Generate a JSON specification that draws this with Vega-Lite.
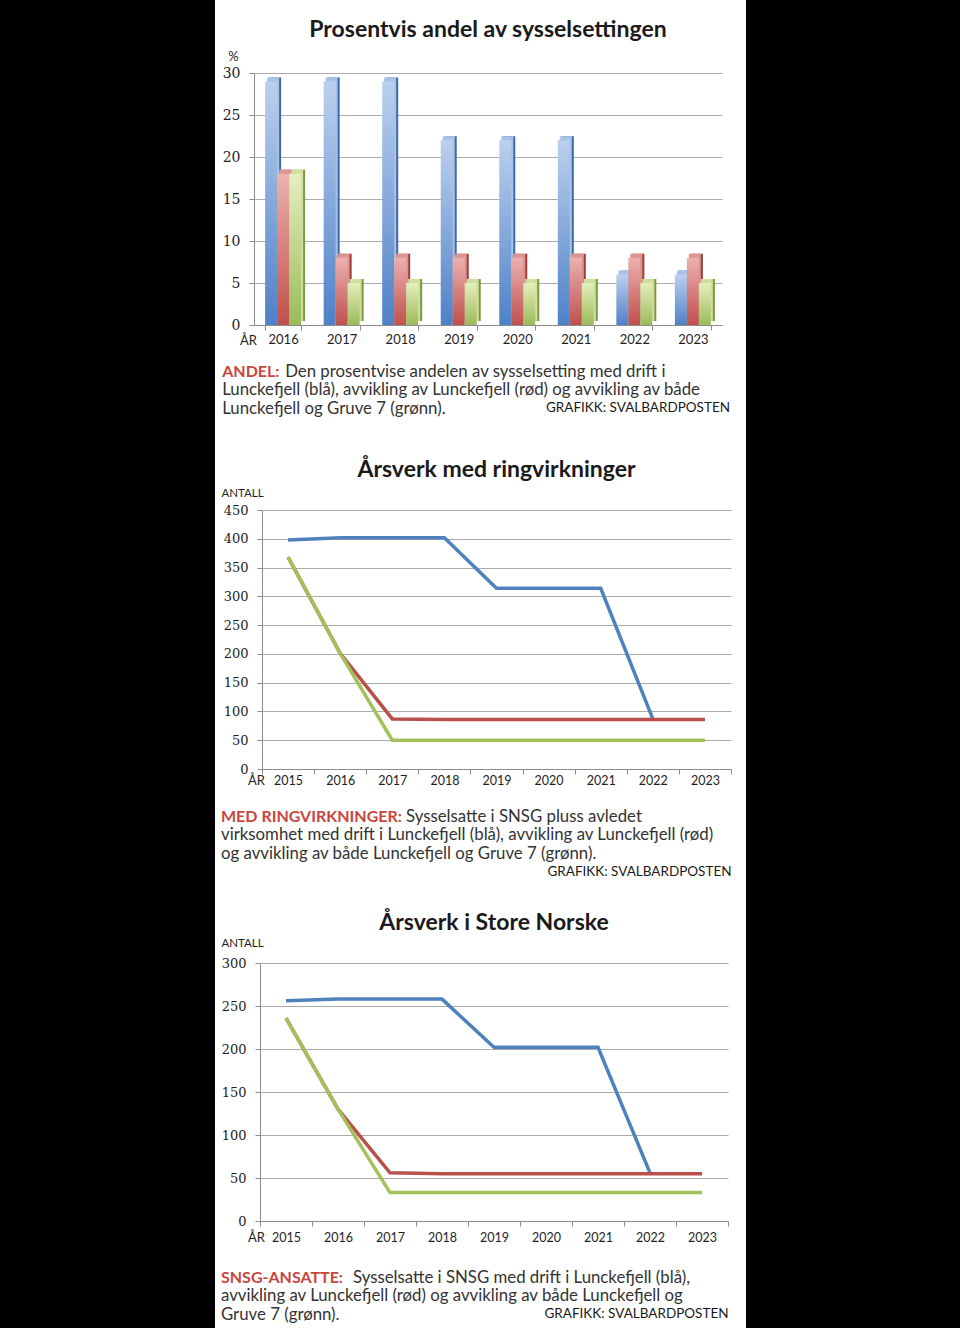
{
  "$schema": "https://vega.github.io/schema/vega-lite/v6.json",
  "background": "white",
  "padding": 0,
  "spacing": 0,
  "config": {
    "view": {"stroke": null},
    "font": "Lato",
    "title": {"font": "Lato", "fontWeight": "bold", "fontSize": 23, "color": "#1a1a1a", "anchor": "middle",
      "subtitleFont": "Lato", "subtitleFontSize": 16.8, "subtitleColor": "#333333", "subtitleLineHeight": 19},
    "axis": {"labelFont": "Lato", "titleFont": "Lato", "domainColor": "#8c8c8c", "tickColor": "#8c8c8c",
      "gridColor": "#ababab", "labelColor": "#1e1e1e", "titleColor": "#1e1e1e", "titleFontWeight": "normal", "tickSize": 5},
    "axisY": {"labelPadding": 9, "titleAngle": 0, "titleAlign": "left", "titleBaseline": "middle", "grid": true},
    "axisX": {"grid": false, "labelAngle": 0, "titleBaseline": "middle", "titleAlign": "center", "tickBand": "extent"}
  },
  "datasets": {
    "andel": [
      {"year": 2016, "serie": "blå", "value": 29}, {"year": 2016, "serie": "rød", "value": 18}, {"year": 2016, "serie": "grønn", "value": 18},
      {"year": 2017, "serie": "blå", "value": 29}, {"year": 2017, "serie": "rød", "value": 8}, {"year": 2017, "serie": "grønn", "value": 5},
      {"year": 2018, "serie": "blå", "value": 29}, {"year": 2018, "serie": "rød", "value": 8}, {"year": 2018, "serie": "grønn", "value": 5},
      {"year": 2019, "serie": "blå", "value": 22}, {"year": 2019, "serie": "rød", "value": 8}, {"year": 2019, "serie": "grønn", "value": 5},
      {"year": 2020, "serie": "blå", "value": 22}, {"year": 2020, "serie": "rød", "value": 8}, {"year": 2020, "serie": "grønn", "value": 5},
      {"year": 2021, "serie": "blå", "value": 22}, {"year": 2021, "serie": "rød", "value": 8}, {"year": 2021, "serie": "grønn", "value": 5},
      {"year": 2022, "serie": "blå", "value": 6}, {"year": 2022, "serie": "rød", "value": 8}, {"year": 2022, "serie": "grønn", "value": 5},
      {"year": 2023, "serie": "blå", "value": 6}, {"year": 2023, "serie": "rød", "value": 8}, {"year": 2023, "serie": "grønn", "value": 5}
    ],
    "ring": [
      {"year": 2015, "serie": "blå", "value": 398}, {"year": 2016, "serie": "blå", "value": 402}, {"year": 2017, "serie": "blå", "value": 402},
      {"year": 2018, "serie": "blå", "value": 402}, {"year": 2019, "serie": "blå", "value": 314}, {"year": 2020, "serie": "blå", "value": 314},
      {"year": 2021, "serie": "blå", "value": 314}, {"year": 2022, "serie": "blå", "value": 87},
      {"year": 2015, "serie": "rød", "value": 368}, {"year": 2016, "serie": "rød", "value": 201}, {"year": 2017, "serie": "rød", "value": 87},
      {"year": 2018, "serie": "rød", "value": 86}, {"year": 2019, "serie": "rød", "value": 86}, {"year": 2020, "serie": "rød", "value": 86},
      {"year": 2021, "serie": "rød", "value": 86}, {"year": 2022, "serie": "rød", "value": 86}, {"year": 2023, "serie": "rød", "value": 86},
      {"year": 2015, "serie": "grønn", "value": 368}, {"year": 2016, "serie": "grønn", "value": 201}, {"year": 2017, "serie": "grønn", "value": 50},
      {"year": 2018, "serie": "grønn", "value": 50}, {"year": 2019, "serie": "grønn", "value": 50}, {"year": 2020, "serie": "grønn", "value": 50},
      {"year": 2021, "serie": "grønn", "value": 50}, {"year": 2022, "serie": "grønn", "value": 50}, {"year": 2023, "serie": "grønn", "value": 50}
    ],
    "snsg": [
      {"year": 2015, "serie": "blå", "value": 256}, {"year": 2016, "serie": "blå", "value": 258}, {"year": 2017, "serie": "blå", "value": 258},
      {"year": 2018, "serie": "blå", "value": 258}, {"year": 2019, "serie": "blå", "value": 202}, {"year": 2020, "serie": "blå", "value": 202},
      {"year": 2021, "serie": "blå", "value": 202}, {"year": 2022, "serie": "blå", "value": 56},
      {"year": 2015, "serie": "rød", "value": 236}, {"year": 2016, "serie": "rød", "value": 130}, {"year": 2017, "serie": "rød", "value": 56},
      {"year": 2018, "serie": "rød", "value": 55}, {"year": 2019, "serie": "rød", "value": 55}, {"year": 2020, "serie": "rød", "value": 55},
      {"year": 2021, "serie": "rød", "value": 55}, {"year": 2022, "serie": "rød", "value": 55}, {"year": 2023, "serie": "rød", "value": 55},
      {"year": 2015, "serie": "grønn", "value": 236}, {"year": 2016, "serie": "grønn", "value": 130}, {"year": 2017, "serie": "grønn", "value": 33},
      {"year": 2018, "serie": "grønn", "value": 33}, {"year": 2019, "serie": "grønn", "value": 33}, {"year": 2020, "serie": "grønn", "value": 33},
      {"year": 2021, "serie": "grønn", "value": 33}, {"year": 2022, "serie": "grønn", "value": 33}, {"year": 2023, "serie": "grønn", "value": 33}
    ],
    "pad": [{"k": 1}]
  },
  "hconcat": [
    {"width": 215, "height": 1328, "data": {"name": "pad"}, "view": {"fill": "black"}, "mark": {"type": "rect", "color": "black"}, "encoding": {}},
    {
      "spacing": 0,
      "vconcat": [
        {"width": 1, "height": 19, "data": {"name": "pad"}, "mark": {"type": "rect", "opacity": 0}, "encoding": {}},
        {
          "spacing": 0,
          "hconcat": [
            {"width": 7, "height": 1, "data": {"name": "pad"}, "mark": {"type": "rect", "opacity": 0}, "encoding": {}},
            {
              "title": {"text": "GRAFIKK: SVALBARDPOSTEN", "orient": "bottom", "anchor": "end", "offset": -17, "fontSize": 13.5, "fontWeight": "normal", "color": "#1a1a1a", "dx": 8},
              "vconcat": [
                {
                  "title": {"text": "Den prosentvise andelen av sysselsetting med drift i", "orient": "bottom", "anchor": "start", "offset": -54.2, "dx": 63, "fontSize": 16.8, "fontWeight": "normal", "color": "#333333"},
                  "vconcat": [
                    {
                      "title": {"text": "ANDEL:", "orient": "bottom", "anchor": "start", "offset": 17, "fontSize": 16, "color": "#c8463d", "subtitlePadding": 2.4,
                        "subtitle": ["Lunckefjell (blå), avvikling av Lunckefjell (rød) og avvikling av både", "Lunckefjell og Gruve 7 (grønn)."]},
                      "vconcat": [
                        {
                          "width": 468, "height": 252,
                          "title": {"text": "Prosentvis andel av sysselsettingen", "offset": 8},
                          "data": {"name": "andel"},
                          "encoding": {
                            "x": {"field": "year", "type": "ordinal", "scale": {"paddingInner": 0.385, "paddingOuter": 0.19},
                              "axis": {"labelFontSize": 13, "labelPadding": 3, "title": "ÅR", "titleX": -6, "titleY": 15, "titleFontSize": 13}},
                            "y": {"field": "value", "type": "quantitative", "scale": {"domain": [0, 30]},
                              "axis": {"values": [0, 5, 10, 15, 20, 25, 30], "labelFont": "DejaVu Serif", "labelFontSize": 14, "title": "%", "titleX": -21, "titleY": -17, "titleAlign": "center", "titleFontSize": 13}}
                          },
                          "resolve": {"scale": {"xOffset": "independent", "color": "independent"}},
                          "layer": [
                            {"mark": {"type": "bar", "yOffset": -4},
                              "encoding": {
                                "xOffset": {"field": "serie", "type": "nominal", "scale": {"domain": ["blå", "rød", "grønn"], "range": [4, 40], "paddingInner": 0}},
                                "color": {"field": "serie", "type": "nominal", "scale": {"domain": ["blå", "rød", "grønn"], "range": ["#3f6aa6", "#9c3e3b", "#7b9843"]}, "legend": null}}},
                            {"mark": {"type": "bar", "yOffset": -4},
                              "encoding": {
                                "xOffset": {"field": "serie", "type": "nominal", "scale": {"domain": ["blå", "rød", "grønn"], "range": [2, 38], "paddingInner": 0}},
                                "color": {"field": "serie", "type": "nominal", "scale": {"domain": ["blå", "rød", "grønn"], "range": ["#a9c2e8", "#dc9391", "#cfdf9c"]}, "legend": null}}},
                            {"transform": [{"filter": "datum.serie === 'blå'"}],
                              "mark": {"type": "bar", "color": {"gradient": "linear", "x1": 0, "y1": 0, "x2": 0, "y2": 1, "stops": [{"offset": 0, "color": "#bcd0ee"}, {"offset": 1, "color": "#4f81c7"}]}},
                              "encoding": {"xOffset": {"field": "serie", "type": "nominal", "scale": {"domain": ["blå", "rød", "grønn"], "paddingInner": 0}}}},
                            {"transform": [{"filter": "datum.serie === 'rød'"}],
                              "mark": {"type": "bar", "color": {"gradient": "linear", "x1": 0, "y1": 0, "x2": 0, "y2": 1, "stops": [{"offset": 0, "color": "#ebb1af"}, {"offset": 1, "color": "#c0504d"}]}},
                              "encoding": {"xOffset": {"field": "serie", "type": "nominal", "scale": {"domain": ["blå", "rød", "grønn"], "paddingInner": 0}}}},
                            {"transform": [{"filter": "datum.serie === 'grønn'"}],
                              "mark": {"type": "bar", "color": {"gradient": "linear", "x1": 0, "y1": 0, "x2": 0, "y2": 1, "stops": [{"offset": 0, "color": "#e5eebd"}, {"offset": 1, "color": "#9bbb59"}]}},
                              "encoding": {"xOffset": {"field": "serie", "type": "nominal", "scale": {"domain": ["blå", "rød", "grønn"], "paddingInner": 0}}}}
                          ]
                        }
                      ]
                    }
                  ]
                }
              ]
            }
          ]
        },
        {"width": 1, "height": 40, "data": {"name": "pad"}, "mark": {"type": "rect", "opacity": 0}, "encoding": {}},
        {
          "spacing": 0,
          "hconcat": [
            {"width": 6, "height": 1, "data": {"name": "pad"}, "mark": {"type": "rect", "opacity": 0}, "encoding": {}},
            {
              "title": {"text": "GRAFIKK: SVALBARDPOSTEN", "orient": "bottom", "anchor": "end", "offset": 2, "fontSize": 13.5, "fontWeight": "normal", "color": "#1a1a1a"},
              "vconcat": [
                {
                  "title": {"text": "Sysselsatte i SNSG pluss avledet", "orient": "bottom", "anchor": "start", "offset": -54.2, "dx": 185, "fontSize": 16.8, "fontWeight": "normal", "color": "#333333"},
                  "vconcat": [
                    {
                      "title": {"text": "MED RINGVIRKNINGER:", "orient": "bottom", "anchor": "start", "offset": 22, "fontSize": 16, "color": "#c8463d", "subtitlePadding": 2.4,
                        "subtitle": ["virksomhet med drift i Lunckefjell (blå), avvikling av Lunckefjell (rød)", "og avvikling av både Lunckefjell og Gruve 7 (grønn)."]},
                      "vconcat": [
                        {
                          "width": 469, "height": 259,
                          "title": {"text": "Årsverk med ringvirkninger", "offset": 5},
                          "data": {"name": "ring"},
                          "encoding": {
                            "x": {"field": "year", "type": "ordinal", "bandPosition": 0.5, "scale": {"type": "band", "paddingInner": 0, "paddingOuter": 0},
                              "axis": {"labelFontSize": 12.5, "labelPadding": 0, "title": "ÅR", "titleX": -6, "titleY": 11, "titleFontSize": 13}},
                            "y": {"field": "value", "type": "quantitative", "scale": {"domain": [0, 450]},
                              "axis": {"values": [0, 50, 100, 150, 200, 250, 300, 350, 400, 450], "labelFont": "DejaVu Serif", "labelFontSize": 13, "title": "ANTALL", "titleX": -41, "titleY": -17, "titleFontSize": 11.5}}
                          },
                          "layer": [
                            {"transform": [{"filter": "datum.serie === 'blå'"}], "mark": {"type": "line", "color": "#4f81bd", "strokeWidth": 3.5}},
                            {"transform": [{"filter": "datum.serie === 'rød'"}], "mark": {"type": "line", "color": "#b9504b", "strokeWidth": 3.5}},
                            {"transform": [{"filter": "datum.serie === 'grønn'"}], "mark": {"type": "line", "color": "#a3c15a", "strokeWidth": 3.5}}
                          ]
                        }
                      ]
                    }
                  ]
                }
              ]
            }
          ]
        },
        {"width": 1, "height": 33, "data": {"name": "pad"}, "mark": {"type": "rect", "opacity": 0}, "encoding": {}},
        {
          "spacing": 0,
          "hconcat": [
            {"width": 6, "height": 1, "data": {"name": "pad"}, "mark": {"type": "rect", "opacity": 0}, "encoding": {}},
            {
              "title": {"text": "GRAFIKK: SVALBARDPOSTEN", "orient": "bottom", "anchor": "end", "offset": -17, "fontSize": 13.5, "fontWeight": "normal", "color": "#1a1a1a"},
              "vconcat": [
                {
                  "title": {"text": "Sysselsatte i SNSG med drift i Lunckefjell (blå),", "orient": "bottom", "anchor": "start", "offset": -54.2, "dx": 132, "fontSize": 16.8, "fontWeight": "normal", "color": "#333333"},
                  "vconcat": [
                    {
                      "title": {"text": "SNSG-ANSATTE:", "orient": "bottom", "anchor": "start", "offset": 26, "fontSize": 16, "color": "#c8463d", "subtitlePadding": 2.4,
                        "subtitle": ["avvikling av Lunckefjell (rød) og avvikling av både Lunckefjell og", "Gruve 7 (grønn)."]},
                      "vconcat": [
                        {
                          "width": 468, "height": 258,
                          "title": {"text": "Årsverk i Store Norske", "offset": 2},
                          "data": {"name": "snsg"},
                          "encoding": {
                            "x": {"field": "year", "type": "ordinal", "bandPosition": 0.5, "scale": {"type": "band", "paddingInner": 0, "paddingOuter": 0},
                              "axis": {"labelFontSize": 12.5, "labelPadding": 5, "title": "ÅR", "titleX": -4, "titleY": 16, "titleFontSize": 13}},
                            "y": {"field": "value", "type": "quantitative", "scale": {"domain": [0, 300]},
                              "axis": {"values": [0, 50, 100, 150, 200, 250, 300], "labelFont": "DejaVu Serif", "labelFontSize": 13, "title": "ANTALL", "titleX": -39, "titleY": -20, "titleFontSize": 11.5}}
                          },
                          "layer": [
                            {"transform": [{"filter": "datum.serie === 'blå'"}], "mark": {"type": "line", "color": "#4f81bd", "strokeWidth": 3.5}},
                            {"transform": [{"filter": "datum.serie === 'rød'"}], "mark": {"type": "line", "color": "#b9504b", "strokeWidth": 3.5}},
                            {"transform": [{"filter": "datum.serie === 'grønn'"}], "mark": {"type": "line", "color": "#a3c15a", "strokeWidth": 3.5}}
                          ]
                        }
                      ]
                    }
                  ]
                }
              ]
            }
          ]
        }
      ]
    },
    {"width": 14, "height": 1328, "data": {"name": "pad"}, "mark": {"type": "rect", "opacity": 0}, "encoding": {}},
    {"width": 215, "height": 1328, "data": {"name": "pad"}, "view": {"fill": "black"}, "mark": {"type": "rect", "color": "black"}, "encoding": {}}
  ]
}
